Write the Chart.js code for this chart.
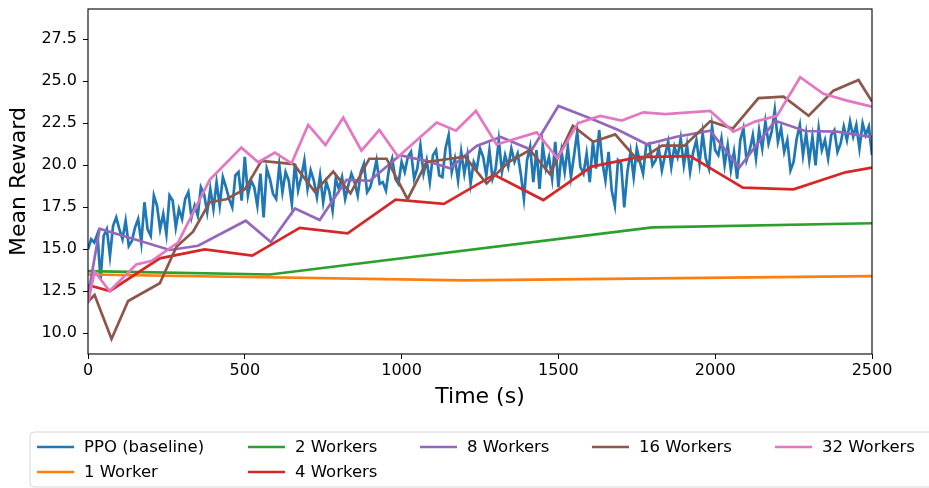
<!DOCTYPE html>
<html>
<head>
<meta charset="utf-8">
<title>Mean Reward over Time</title>
<script src="https://cdn.jsdelivr.net/npm/chart.js@4.4.0/dist/chart.umd.min.js"></script>
<style>
  html, body { margin: 0; padding: 0; background: #fff; }
  #wrap { width: 929px; height: 488px; }
</style>
</head>
<body>
<div id="wrap"><canvas id="c" width="929" height="488"></canvas></div>
<script>
// ---- data ----------------------------------------------------------------
const xTicks = [0, 500, 1000, 1500, 2000, 2500];
const yTicks = [10.0, 12.5, 15.0, 17.5, 20.0, 22.5, 25.0, 27.5];

// PPO baseline: one reading every PPO_STEP seconds
const PPO_STEP = 10;
const ppoReward = [
  15.0, 15.6, 15.4, 15.9, 13.2, 15.8, 16.2, 14.6, 16.4, 16.9,
  16.2, 15.6, 16.7, 15.2, 15.5, 16.3, 16.8, 15.4, 17.8, 16.2,
  15.8, 18.2, 17.6, 16.2, 17.1, 15.9, 18.2, 17.9, 16.3, 17.4,
  16.8, 18.0, 18.4, 16.9, 17.6, 17.0, 18.7, 18.3, 17.2, 18.6,
  17.4, 19.0, 17.6, 19.3, 18.7, 18.0, 17.5, 19.4, 19.6, 17.9,
  20.5, 18.2, 19.1, 18.7, 17.6, 19.5, 16.9, 19.8, 19.2, 18.3,
  18.0, 20.0, 18.4, 19.6, 19.1, 17.7, 20.1, 18.5, 19.3, 20.3,
  18.6, 19.7, 19.1, 18.1, 19.4, 17.8, 19.0, 18.4, 17.3, 19.2,
  18.6, 19.3, 18.0, 18.8, 19.5, 19.0, 18.2, 19.6, 20.1, 18.4,
  18.7, 19.4, 20.3, 18.9, 19.0, 18.5, 19.8, 20.4, 19.2, 18.9,
  20.2, 19.6, 20.5, 20.8, 19.2, 19.8, 21.2, 19.5, 20.3, 19.0,
  20.6, 20.9, 19.4, 19.3, 21.0, 21.8, 19.6, 20.4, 19.1, 20.8,
  19.5, 20.6, 18.9, 20.2, 19.8, 21.0, 20.5, 19.4, 20.9, 19.2,
  19.8, 21.5, 19.6, 20.6, 19.9, 21.0, 20.2, 20.7, 19.5, 18.0,
  20.3, 21.1, 19.0, 20.9, 18.6, 21.2, 19.8, 20.5, 19.2, 21.4,
  18.7, 20.8, 19.6, 21.1, 19.3, 20.6, 22.0, 19.9, 19.5, 20.7,
  19.0, 21.4, 19.8, 22.1, 20.2, 19.1, 20.8, 18.5, 17.6, 20.3,
  20.1, 17.5, 19.6, 20.8, 19.3, 21.0, 20.2, 19.5, 21.2, 21.3,
  20.0, 20.3, 21.0, 19.7, 20.6, 21.4, 19.9, 21.1, 20.5, 21.6,
  20.0, 21.2, 19.6, 20.8, 21.5, 20.1, 21.9, 20.4, 19.8, 22.3,
  20.9, 20.6, 21.6, 20.0, 21.2, 19.7, 20.8, 19.2, 21.5, 22.2,
  20.3, 20.9, 21.8, 20.4, 22.1, 21.0, 22.6, 21.3, 22.0, 23.3,
  21.4, 22.2, 20.8, 21.5, 19.7, 20.2, 21.6, 22.4, 20.6, 21.9,
  20.3, 21.7, 20.0, 22.2, 20.9, 21.5, 20.4, 21.8, 22.1, 20.8,
  21.3, 22.3, 21.5, 22.6, 21.7, 22.4, 21.0, 22.5, 21.8, 22.3,
  20.6
];

const w1Time   = [0, 1200, 2500];
const w1Reward = [13.5, 13.15, 13.4];

const w2Time   = [0, 580, 1800, 2500];
const w2Reward = [13.7, 13.5, 16.3, 16.55];

const w4Time   = [0, 70, 229, 372, 524, 675, 828, 981, 1135, 1295, 1452, 1606, 1755, 1920, 2088, 2250, 2415, 2500];
const w4Reward = [12.87, 12.52, 14.46, 15.0, 14.62, 16.28, 15.95, 17.95, 17.7, 19.44, 17.93, 19.92, 20.48, 20.55, 18.67, 18.57, 19.58, 19.86];

const w8Time   = [0, 37, 261, 351, 503, 583, 660, 739, 824, 899, 995, 1080, 1154, 1239, 1316, 1415, 1500, 1601, 1691, 1782, 1877, 1984, 2077, 2191, 2287, 2388, 2500];
const w8Reward = [12.2, 16.23, 14.96, 15.21, 16.7, 15.43, 17.43, 16.74, 19.13, 19.08, 20.6, 20.25, 19.82, 21.15, 21.68, 20.91, 23.53, 22.8, 22.1, 21.25, 21.7, 22.06, 19.86, 22.65, 22.04, 22.0, 21.67];

const w16Time   = [0, 21, 75, 128, 229, 282, 335, 388, 441, 500, 553, 656, 723, 782, 837, 897, 952, 1019, 1080, 1202, 1271, 1340, 1409, 1473, 1546, 1611, 1681, 1755, 1830, 1902, 1984, 2056, 2138, 2218, 2298, 2377, 2457, 2500];
const w16Reward = [11.88, 12.28, 9.66, 11.92, 12.98, 15.15, 16.05, 17.8, 17.98, 18.57, 20.26, 20.07, 18.43, 19.62, 18.33, 20.39, 20.39, 17.98, 20.2, 20.51, 18.91, 20.18, 20.91, 19.48, 22.34, 21.4, 21.84, 20.26, 21.17, 21.17, 22.62, 22.18, 24.0, 24.08, 22.95, 24.44, 25.08, 23.79];

const w32Time   = [0, 21, 69, 154, 202, 287, 388, 489, 543, 596, 649, 702, 757, 814, 872, 929, 989, 1112, 1173, 1237, 1303, 1431, 1497, 1562, 1633, 1702, 1771, 1840, 1984, 2058, 2127, 2197, 2271, 2345, 2420, 2500];
const w32Reward = [11.79, 13.67, 12.52, 14.1, 14.3, 15.4, 19.13, 21.05, 20.18, 20.75, 20.12, 22.4, 21.21, 22.83, 20.87, 22.1, 20.51, 22.54, 22.06, 23.23, 21.24, 21.96, 20.42, 22.5, 22.94, 22.66, 23.15, 23.05, 23.23, 22.0, 22.6, 22.94, 25.24, 24.25, 23.85, 23.49];

const seriesNames = ['PPO (baseline)', '1 Worker', '2 Workers', '4 Workers', '8 Workers', '16 Workers', '32 Workers'];
const seriesColors = ['#1f77b4', '#ff7f0e', '#2ca02c', '#d62728', '#9467bd', '#8c564b', '#e377c2'];
// legend column for each series (five columns, filled top-down)
const legendColumn = [0, 0, 1, 1, 2, 3, 4];
const legendRow    = [0, 1, 0, 1, 0, 0, 0];

// ---- build datasets --------------------------------------------------------
const ppoTime = ppoReward.map((_, i) => i * PPO_STEP);
const pairs = (xs, ys) => xs.map((x, i) => ({ x: x, y: ys[i] }));
const seriesData = [
  pairs(ppoTime, ppoReward),
  pairs(w1Time, w1Reward),
  pairs(w2Time, w2Reward),
  pairs(w4Time, w4Reward),
  pairs(w8Time, w8Reward),
  pairs(w16Time, w16Reward),
  pairs(w32Time, w32Reward)
];

const datasets = seriesNames.map((name, i) => ({
  label: name,
  data: seriesData[i],
  borderColor: seriesColors[i],
  backgroundColor: seriesColors[i],
  borderWidth: 2.7,
  pointRadius: 0,
  tension: 0,
  fill: false,
  // later series are painted over earlier ones
  order: seriesNames.length - i
}));

const FONT = '"DejaVu Sans", "Liberation Sans", sans-serif';

// frame, axis titles and the two-row legend below the plot
const decorations = {
  id: 'decorations',
  afterDraw(chart) {
    const ctx = chart.ctx;
    const a = chart.chartArea;
    ctx.save();

    // box around the plotting area
    ctx.strokeStyle = '#000';
    ctx.lineWidth = 1.1;
    ctx.strokeRect(a.left, a.top, a.right - a.left, a.bottom - a.top);

    // axis titles
    ctx.fillStyle = '#000';
    ctx.font = '22px ' + FONT;
    ctx.textAlign = 'center';
    ctx.textBaseline = 'middle';
    ctx.fillText('Time (s)', (a.left + a.right) / 2, 397);
    ctx.save();
    ctx.translate(19, (a.top + a.bottom) / 2);
    ctx.rotate(-Math.PI / 2);
    ctx.fillText('Mean Reward', 0, 0);
    ctx.restore();

    // legend frame
    const bx = 30, by = 432, bw = 920, bh = 55, r = 4;
    ctx.beginPath();
    ctx.moveTo(bx + r, by);
    ctx.lineTo(bx + bw - r, by);
    ctx.arcTo(bx + bw, by, bx + bw, by + r, r);
    ctx.lineTo(bx + bw, by + bh - r);
    ctx.arcTo(bx + bw, by + bh, bx + bw - r, by + bh, r);
    ctx.lineTo(bx + r, by + bh);
    ctx.arcTo(bx, by + bh, bx, by + bh - r, r);
    ctx.lineTo(bx, by + r);
    ctx.arcTo(bx, by, bx + r, by, r);
    ctx.closePath();
    ctx.fillStyle = 'rgba(255,255,255,0.8)';
    ctx.fill();
    ctx.strokeStyle = '#d6d6d6';
    ctx.lineWidth = 1;
    ctx.stroke();

    // legend entries
    const colX = [37, 248, 420, 592, 775];
    const rowY = [447, 472];
    ctx.font = '16.5px ' + FONT;
    ctx.textAlign = 'left';
    ctx.textBaseline = 'middle';
    chart.data.datasets.forEach((ds, i) => {
      const x = colX[legendColumn[i]], y = rowY[legendRow[i]];
      ctx.strokeStyle = ds.borderColor;
      ctx.lineWidth = 2.7;
      ctx.beginPath();
      ctx.moveTo(x, y);
      ctx.lineTo(x + 37, y);
      ctx.stroke();
      ctx.fillStyle = '#000';
      ctx.fillText(ds.label, x + 47, y + 1);
    });
    ctx.restore();
  }
};

const noEdgePadding = scale => {
  scale.paddingTop = 0;
  scale.paddingBottom = 0;
  scale.paddingLeft = 0;
  scale.paddingRight = 0;
};

new Chart(document.getElementById('c'), {
  type: 'line',
  data: { datasets: datasets },
  options: {
    responsive: false,
    animation: false,
    devicePixelRatio: 1,
    layout: { padding: { left: 0, right: 57, top: 9, bottom: 104 } },
    plugins: { legend: { display: false }, tooltip: { enabled: false } },
    scales: {
      x: {
        type: 'linear',
        min: 0,
        max: 2500,
        afterFit(scale) { scale.height = 30; noEdgePadding(scale); },
        afterBuildTicks(scale) { scale.ticks = xTicks.map(v => ({ value: v })); },
        grid: { display: true, drawOnChartArea: false, drawTicks: true, tickLength: 5, color: '#000', lineWidth: 1 },
        border: { display: false },
        ticks: {
          color: '#000',
          font: { family: FONT, size: 16 },
          padding: 2,
          maxRotation: 0,
          autoSkip: false,
          callback: v => String(v)
        }
      },
      y: {
        type: 'linear',
        min: 8.77,
        max: 29.3,
        afterFit(scale) { scale.width = 88; noEdgePadding(scale); },
        afterBuildTicks(scale) { scale.ticks = yTicks.map(v => ({ value: v })); },
        grid: { display: true, drawOnChartArea: false, drawTicks: true, tickLength: 5, color: '#000', lineWidth: 1 },
        border: { display: false },
        ticks: {
          color: '#000',
          font: { family: FONT, size: 16 },
          padding: 6,
          autoSkip: false,
          callback: v => v.toFixed(1)
        }
      }
    }
  },
  plugins: [decorations]
});
</script>
</body>
</html>
